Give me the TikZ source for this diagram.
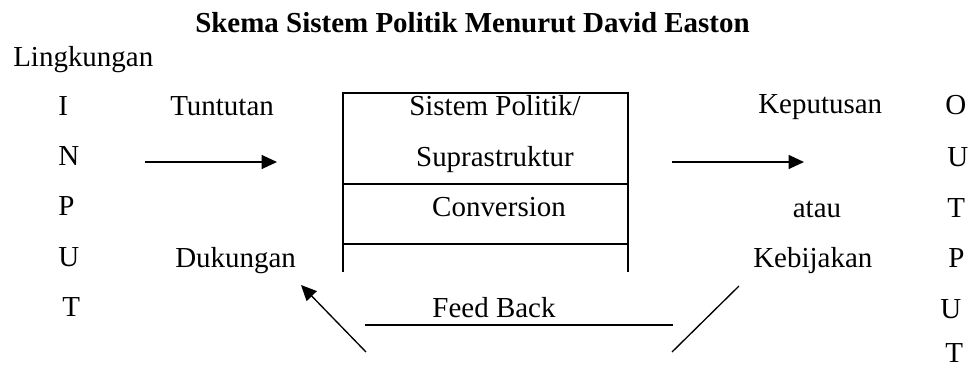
\documentclass[tikz,border=0pt]{standalone}
\usepackage{fontspec}
\setmainfont{Liberation Serif}
\usetikzlibrary{arrows.meta}
\begin{document}
\begin{tikzpicture}[x=0.025cm, y=-0.025cm, >={Triangle[length=11pt, width=10pt]},
    txt/.style={inner sep=0pt, anchor=base west, font=\fontsize{20.6}{24}\selectfont},
    ctxt/.style={txt, anchor=base},
    ln/.style={line width=0.95pt}]
    \useasboundingbox (0,0) rectangle (968,370);

    % Title and environment
    \node[ctxt, font=\fontsize{20.6}{24}\selectfont\bfseries] (title) at (472.5, 32) {Skema Sistem Politik Menurut David Easton};
    \node[txt] (env) at (13, 66) {Lingkungan};

    % INPUT column
    \node[txt] (in1) at (58, 115) {I};
    \node[txt] (in2) at (58, 165) {N};
    \node[txt] (in3) at (58, 215) {P};
    \node[txt] (in4) at (58, 266) {U};
    \node[txt] (in5) at (62, 316) {T};

    % OUTPUT column
    \node[txt] (out1) at (945, 114) {O};
    \node[txt] (out2) at (947, 166) {U};
    \node[txt] (out3) at (947, 217) {T};
    \node[txt] (out4) at (948, 267) {P};
    \node[txt] (out5) at (940, 318) {U};
    \node[txt] (out6) at (945, 362) {T};

    % Labels left, middle and right
    \node[txt] (demand) at (170, 115) {Tuntutan};
    \node[txt] (support) at (175, 267) {Dukungan};
    \node[ctxt] (sys) at (495, 115) {Sistem Politik/};
    \node[ctxt] (supra) at (495, 166) {Suprastruktur};
    \node[ctxt] (conv) at (499, 216) {Conversion};
    \node[ctxt] (feed) at (494, 317) {Feed Back};
    \node[txt] (decision) at (758, 113) {Keputusan};
    \node[ctxt] (or) at (817, 217) {atau};
    \node[txt] (policy) at (753, 267) {Kebijakan};

    % Box of the political system
    \coordinate (boxbl) at (343, 272);
    \coordinate (boxtl) at (343, 93);
    \coordinate (boxtr) at (628, 93);
    \coordinate (boxbr) at (628, 272);
    \coordinate (div1l) at (343, 184);
    \coordinate (div1r) at (628, 184);
    \coordinate (div2l) at (343, 244);
    \coordinate (div2r) at (628, 244);
    \draw[ln] (boxbl) -- (boxtl) -- (boxtr) -- (boxbr);
    \draw[ln] (div1l) -- (div1r);
    \draw[ln] (div2l) -- (div2r);

    % Arrows and feedback lines
    \coordinate (ina) at (145, 162);
    \coordinate (inb) at (277, 162);
    \coordinate (outa) at (672, 162);
    \coordinate (outb) at (804, 162);
    \coordinate (fba) at (366, 352);
    \coordinate (fbb) at (301, 285);
    \coordinate (fbc) at (365, 325);
    \coordinate (fbd) at (673, 325);
    \coordinate (fbe) at (672, 352);
    \coordinate (fbf) at (739, 286);
    \draw[->, ln] (ina) -- (inb);
    \draw[->, ln] (outa) -- (outb);
    \draw[->, ln] (fba) -- (fbb);
    \draw[ln] (fbc) -- (fbd);
    \draw[ln] (fbe) -- (fbf);
\end{tikzpicture}
\end{document}
